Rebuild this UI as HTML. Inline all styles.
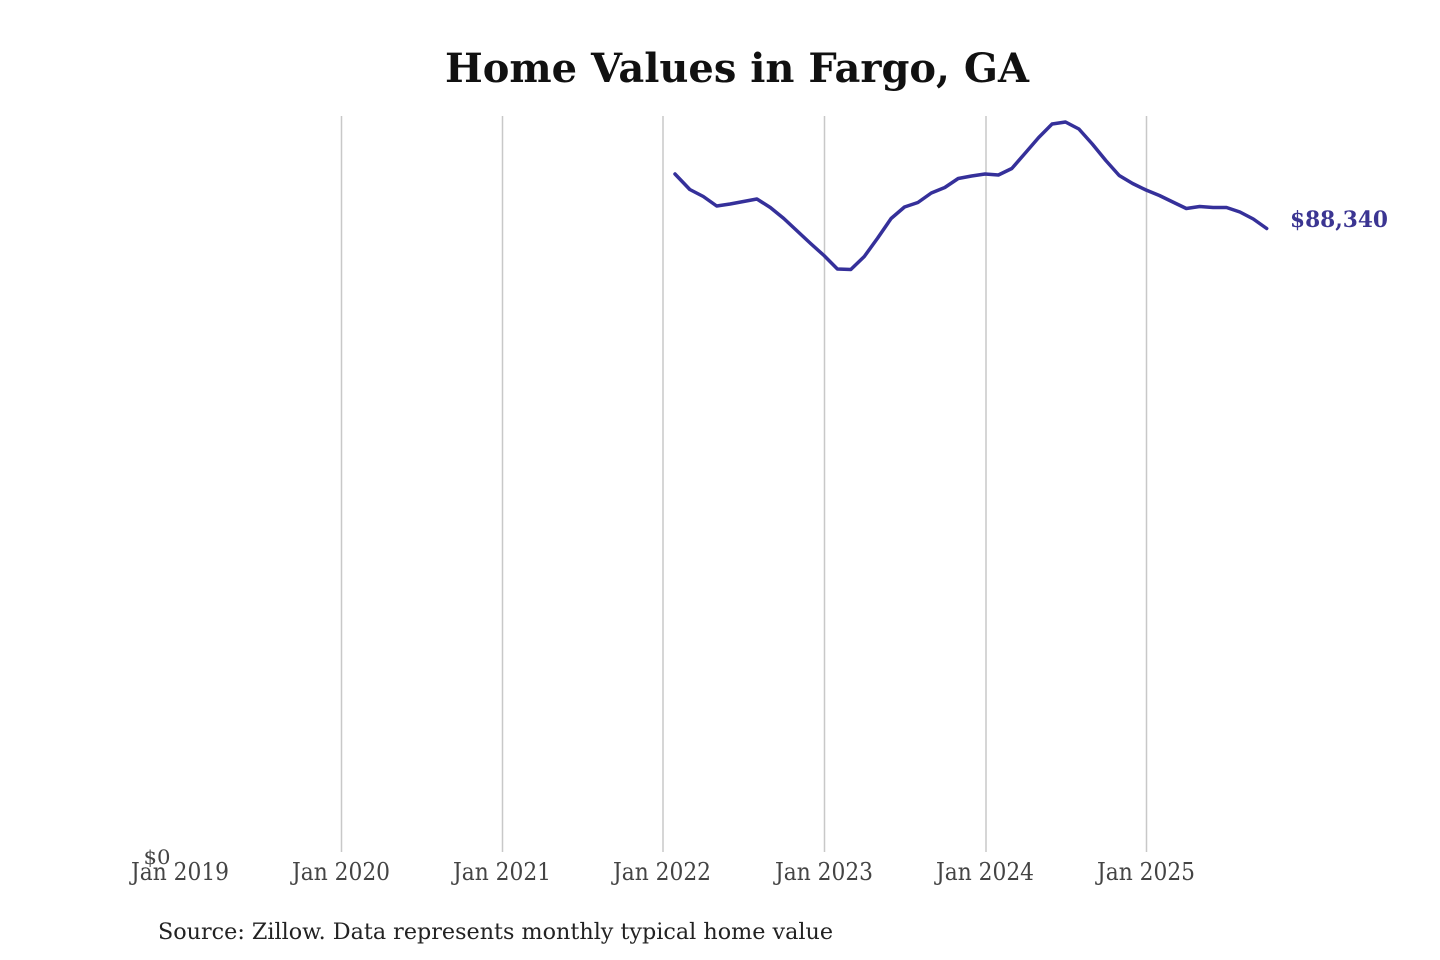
<!DOCTYPE html>
<html><head><meta charset="utf-8"><style>
html,body{margin:0;padding:0;background:#fff;}
svg{display:block;}
</style></head><body>
<svg width="1440" height="960" viewBox="0 0 1440 960" xmlns="http://www.w3.org/2000/svg">
<rect width="1440" height="960" fill="#fff"/>
<text x="737" y="82" text-anchor="middle" font-family="DejaVu Serif, Liberation Serif, serif" font-weight="bold" font-size="40" fill="#111" textLength="584" lengthAdjust="spacingAndGlyphs">Home Values in Fargo, GA</text>
<g stroke="#c8c8c8" stroke-width="1.5">
<line x1="341.5" y1="116" x2="341.5" y2="852"/>
<line x1="502.5" y1="116" x2="502.5" y2="852"/>
<line x1="663" y1="116" x2="663" y2="852"/>
<line x1="824.5" y1="116" x2="824.5" y2="852"/>
<line x1="986" y1="116" x2="986" y2="852"/>
<line x1="1146.5" y1="116" x2="1146.5" y2="852"/>
</g>
<g font-family="DejaVu Serif, Liberation Serif, serif" font-size="24" fill="#444" text-anchor="middle">
<text x="180" y="880" textLength="98" lengthAdjust="spacingAndGlyphs">Jan 2019</text>
<text x="341" y="880" textLength="98" lengthAdjust="spacingAndGlyphs">Jan 2020</text>
<text x="502" y="880" textLength="98" lengthAdjust="spacingAndGlyphs">Jan 2021</text>
<text x="662" y="880" textLength="98" lengthAdjust="spacingAndGlyphs">Jan 2022</text>
<text x="824" y="880" textLength="98" lengthAdjust="spacingAndGlyphs">Jan 2023</text>
<text x="985" y="880" textLength="98" lengthAdjust="spacingAndGlyphs">Jan 2024</text>
<text x="1146" y="880" textLength="98" lengthAdjust="spacingAndGlyphs">Jan 2025</text>
</g>
<text x="157" y="864" text-anchor="middle" font-family="DejaVu Serif, Liberation Serif, serif" font-size="20" fill="#444" textLength="27" lengthAdjust="spacingAndGlyphs">$0</text>
<polyline fill="none" stroke="#35309a" stroke-width="3.5" stroke-linejoin="round" stroke-linecap="round" points="675,174 689.8,189.5 703.3,196.5 716.7,206 730.1,204 743.5,201.5 756.9,199 770.3,207.5 783.8,218.5 797.2,231 810.6,243.5 824,255.5 837.4,269 850.8,269.5 864.3,256.5 877.7,238 891.1,218.5 904.5,207 917.9,202.5 931.3,193 944.8,187.5 958.2,178.5 971.6,176 985,174 998.4,175 1011.8,168.5 1025.3,153 1038.7,137.5 1052.1,124 1065.5,122 1078.9,129 1092.3,144 1105.8,160.5 1119.2,175.5 1132.6,183.5 1146,190 1159.4,195.5 1172.8,202 1186.3,208.5 1199.7,206.5 1213.1,207.5 1226.5,207.5 1239.9,212 1253.3,219 1266.7,228.5"/>
<text x="1290" y="227" font-family="DejaVu Serif, Liberation Serif, serif" font-weight="bold" font-size="22" fill="#3b3592" textLength="98" lengthAdjust="spacingAndGlyphs">$88,340</text>
<text x="158" y="939" font-family="DejaVu Serif, Liberation Serif, serif" font-size="22" fill="#222" textLength="675" lengthAdjust="spacingAndGlyphs">Source: Zillow. Data represents monthly typical home value</text>
</svg>
</body></html>
